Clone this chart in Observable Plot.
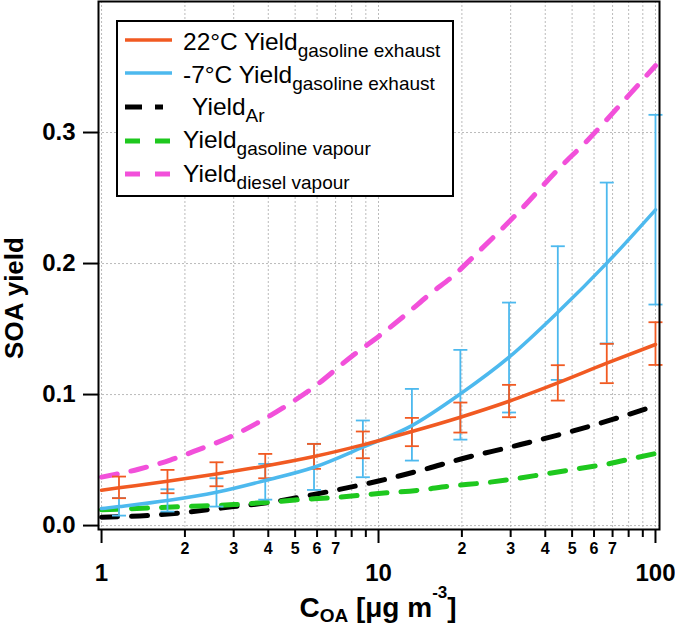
<!DOCTYPE html>
<html>
<head>
<meta charset="utf-8">
<script src="https://cdn.jsdelivr.net/npm/d3@7"></script>
<script src="https://cdn.jsdelivr.net/npm/@observablehq/plot@0.6"></script>
<style>
  body { margin: 0; background: white; }
  #wrap { position: relative; width: 675px; height: 627px; font-family: 'Liberation Sans', Arial, sans-serif; }
  #overlay { position: absolute; left: 0; top: 0; pointer-events: none; }
</style>
</head>
<body>
<div id="wrap"></div>
<script>
// ---- data ----
const barX = [1.156, 1.73, 2.6, 3.9, 5.85, 8.78, 13.2, 19.75, 29.6, 44.4, 66.7, 100];

const warmX = [1, 1.156, 1.73, 2.6, 3.9, 5.85, 8.78, 13.2, 19.75, 29.6, 44.4, 66.7, 100];
const warmY = [0.027, 0.0288, 0.0338, 0.0394, 0.0455, 0.0527, 0.0616, 0.0718, 0.0827, 0.0949, 0.1089, 0.1239, 0.1382];
const warmHi = [0.0374, 0.0425, 0.0483, 0.0547, 0.0623, 0.0718, 0.0822, 0.0939, 0.1074, 0.1224, 0.1387, 0.1552];
const warmLo = [0.0209, 0.0247, 0.0300, 0.0361, 0.0433, 0.0514, 0.0606, 0.0710, 0.0827, 0.0954, 0.1087, 0.1226];

const coldX = [1, 1.156, 1.73, 2.6, 3.9, 5.85, 8.78, 13.2, 19.75, 29.6, 44.4, 66.7, 100];
const coldY = [0.013, 0.0145, 0.0191, 0.0254, 0.0344, 0.0445, 0.0598, 0.0763, 0.1005, 0.1285, 0.1628, 0.2003, 0.241];
const coldHi = [0.0210, 0.0277, 0.0361, 0.0471, 0.0624, 0.0802, 0.1043, 0.1341, 0.1702, 0.2132, 0.2618, 0.3135];
const coldLo = [0.0076, 0.0107, 0.0145, 0.0198, 0.0272, 0.0369, 0.0496, 0.0656, 0.0863, 0.1112, 0.1390, 0.1687];

const arX = [1, 1.5, 2, 3, 4, 5, 7, 10, 15, 20, 30, 50, 70, 100];
const arY = [0.0064, 0.0078, 0.0100, 0.0145, 0.0175, 0.0210, 0.0270, 0.0340, 0.0435, 0.0510, 0.0600, 0.0720, 0.0810, 0.0915];

const gasVapX = [1, 2, 3, 4, 5, 7, 10, 14, 18, 25, 31, 40, 52, 67, 86, 100];
const gasVapY = [0.0120, 0.0145, 0.0160, 0.0178, 0.0195, 0.0215, 0.0245, 0.0270, 0.0300, 0.0330, 0.0356, 0.0394, 0.0433, 0.0470, 0.0520, 0.0550];

const dieselX = [1, 1.36, 1.77, 2.24, 2.87, 3.63, 4.53, 5.7, 8.1, 10.1, 12.7, 15.4, 18.7, 22.7, 31.6, 45.3, 56.8, 79, 100];
const dieselY = [0.037, 0.043, 0.050, 0.058, 0.067, 0.078, 0.090, 0.104, 0.130, 0.145, 0.162, 0.177, 0.191, 0.208, 0.238, 0.2735, 0.294, 0.327, 0.351];

const yTicks = [0, 0.1, 0.2, 0.3];
const xMajorTicks = [1, 10, 100];
const xMinorLabeled = [2, 3, 4, 5, 6, 7, 20, 30, 40, 50, 60, 70];
const xMinorUnlabeled = [8, 9, 80, 90];

const legendLabels = [
  ["22°C Yield", "gasoline exhaust"],
  ["-7°C Yield", "gasoline exhaust"],
  ["Yield", "Ar"],
  ["Yield", "gasoline vapour"],
  ["Yield", "diesel vapour"]
];

// ---- styles ----
const cOrange = "#F15A22", cBlue = "#4DB9EE", cPink = "#F250DA", cGreen = "#1EC81E", cBlack = "#000000";

const zip = (xs, ys) => xs.map((x, i) => ({x, y: ys[i]}));
const bars = (his, los) => barX.map((x, i) => ({x, hi: his[i], lo: los[i]}));

const warm = zip(warmX, warmY), cold = zip(coldX, coldY);
const ar = zip(arX, arY), gasVap = zip(gasVapX, gasVapY), diesel = zip(dieselX, dieselY);
const warmBars = bars(warmHi, warmLo), coldBars = bars(coldHi, coldLo);

const cap = {draw(ctx) { ctx.moveTo(-7, 0); ctx.lineTo(7, 0); }};

const leadDigit = d => String(Math.round(d / Math.pow(10, Math.floor(Math.log10(d) + 1e-9))));

const errMarks = (data, color) => [
  Plot.ruleX(data, {x: "x", y1: "lo", y2: "hi", stroke: color, strokeWidth: 1.8}),
  Plot.dot(data, {x: "x", y: "hi", symbol: cap, fill: "none", stroke: color, strokeWidth: 1.8}),
  Plot.dot(data, {x: "x", y: "lo", symbol: cap, fill: "none", stroke: color, strokeWidth: 1.8})
];

const chart = Plot.plot({
  width: 675,
  height: 627,
  marginLeft: 98,
  marginRight: 16,
  marginTop: 1,
  marginBottom: 98,
  style: {fontFamily: "'Liberation Sans', Arial, sans-serif", background: "white", color: "black"},
  x: {type: "log", domain: [0.975, 103.4]},
  y: {domain: [-0.003, 0.4]},
  marks: [
    Plot.gridX([...xMajorTicks, ...xMinorLabeled, ...xMinorUnlabeled], {stroke: "#aaa", strokeOpacity: 0.8, strokeDasharray: "2,2", strokeWidth: 1}),
    Plot.gridY(yTicks, {stroke: "#aaa", strokeOpacity: 0.8, strokeDasharray: "2,2", strokeWidth: 1}),
    Plot.line(diesel, {x: "x", y: "y", stroke: cPink, strokeWidth: 5, strokeDasharray: "16,14", curve: "monotone-x"}),
    Plot.line(ar, {x: "x", y: "y", stroke: cBlack, strokeWidth: 5, strokeDasharray: "16,14", curve: "monotone-x"}),
    Plot.line(gasVap, {x: "x", y: "y", stroke: cGreen, strokeWidth: 5, strokeDasharray: "16,14", curve: "monotone-x"}),
    ...errMarks(coldBars, cBlue),
    ...errMarks(warmBars, cOrange),
    Plot.line(cold, {x: "x", y: "y", stroke: cBlue, strokeWidth: 3.5, curve: "monotone-x"}),
    Plot.line(warm, {x: "x", y: "y", stroke: cOrange, strokeWidth: 3.5, curve: "monotone-x"}),
    Plot.frame({stroke: "black", strokeWidth: 2}),
    Plot.axisY(yTicks, {text: d => d3.format(".1f")(d), tickSize: 15, tickPadding: 8, fontSize: 24, fontWeight: "bold", strokeWidth: 2, label: null}),
    Plot.axisX(xMajorTicks, {text: d => String(d), tickSize: 14, tickPadding: 20, fontSize: 24, fontWeight: "bold", strokeWidth: 2, label: null}),
    Plot.axisX(xMinorLabeled, {text: leadDigit, tickSize: 8, tickPadding: 5, fontSize: 16, fontWeight: "bold", strokeWidth: 2, label: null}),
    Plot.axisX(xMinorUnlabeled, {text: () => "", tickSize: 8, tickPadding: 5, fontSize: 16, strokeWidth: 2, label: null})
  ]
});

const wrap = document.getElementById("wrap");
wrap.appendChild(chart);

// ---- overlay: legend and axis titles ----
const NS = "http://www.w3.org/2000/svg";
const ov = document.createElementNS(NS, "svg");
ov.setAttribute("id", "overlay");
ov.setAttribute("width", 675);
ov.setAttribute("height", 627);
ov.setAttribute("font-family", "'Liberation Sans', Arial, sans-serif");
wrap.appendChild(ov);

function el(tag, attrs, parent) {
  const e = document.createElementNS(NS, tag);
  for (const k in attrs) e.setAttribute(k, attrs[k]);
  (parent || ov).appendChild(e);
  return e;
}

el("rect", {x: 117, y: 21, width: 336, height: 175, fill: "white", stroke: "black", "stroke-width": 2});
const legendColors = [cOrange, cBlue, cBlack, cGreen, cPink];
const legendDash = [null, null, "17,13,8,100", "15,15", "15,15"];
const legendLineY = [40, 73, 107, 141, 174];
const legendBase = [50, 83, 115, 148, 182];
const legendTextX = [183, 183, 192, 183, 183];
legendLabels.forEach(([main, sub], i) => {
  const ln = el("line", {x1: 125, x2: 172, y1: legendLineY[i], y2: legendLineY[i], stroke: legendColors[i],
    "stroke-width": legendDash[i] ? 5 : 3.5});
  if (legendDash[i]) ln.setAttribute("stroke-dasharray", legendDash[i]);
  const t = el("text", {x: legendTextX[i], y: legendBase[i], "font-size": 24.5, fill: "black"});
  t.appendChild(document.createTextNode(main));
  const s = el("tspan", {"font-size": 19, dy: 7}, t);
  s.textContent = sub;
});

// x title
const xt = el("text", {x: 378, y: 617, "text-anchor": "middle", "font-size": 28, "font-weight": "bold", fill: "black"});
xt.appendChild(document.createTextNode("C"));
el("tspan", {"font-size": 19, dy: 5}, xt).textContent = "OA";
el("tspan", {dy: -5}, xt).textContent = " [μg m";
el("tspan", {"font-size": 17, dy: -19}, xt).textContent = "-3";
el("tspan", {dy: 19}, xt).textContent = "]";

// y title
el("text", {transform: "translate(23,298) rotate(-90)", "text-anchor": "middle", "font-size": 26, "font-weight": "bold", fill: "black"}).textContent = "SOA yield";
</script>
</body>
</html>
